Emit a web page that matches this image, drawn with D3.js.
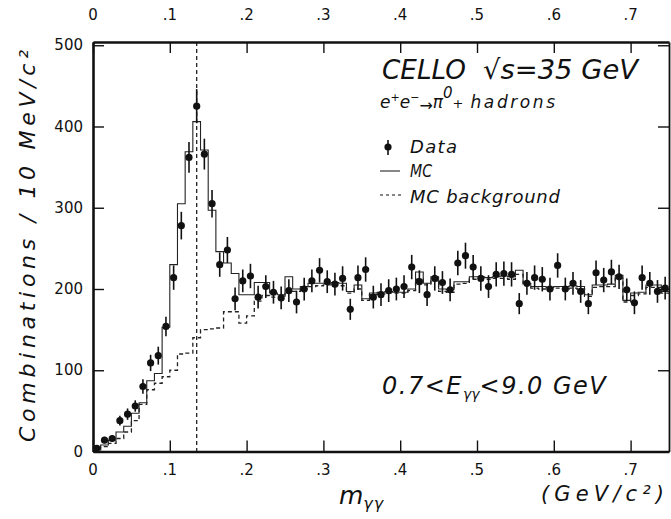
<!DOCTYPE html>
<html>
<head>
<meta charset="utf-8">
<script src="https://cdn.jsdelivr.net/npm/d3@7"></script>
<style>
  html, body { margin: 0; padding: 0; background: #fff; }
  svg { display: block; }
  text { fill: #111; font-family: "DejaVu Sans", sans-serif; }
</style>
</head>
<body>
<svg id="chart" width="671" height="519"></svg>
<script>
// ---- data (bins of 10 MeV from 0 to 0.75 GeV) ----
const binWidth = 0.01;
const dataValues = [4,14,16,38,46,56,80,109,118,154,
  214,278,362,425,366,305,230,248,188,210,
  216,190,203,196,189,198,184,200,210,223,
  209,206,213,175,214,224,190,193,198,200,
  203,227,209,193,213,208,199,232,241,227,
  213,203,218,219,218,182,207,214,212,200,
  229,200,207,197,182,220,211,221,215,199,
  183,214,207,197,201];
const dataErrors = [2,4,4,6,7,7,9,10,11,12,
  15,17,19,21,19,17,15,16,14,14,
  15,14,14,14,14,14,14,14,14,15,
  14,14,15,13,15,15,14,14,14,14,
  14,15,14,14,15,14,14,15,16,15,
  15,14,15,15,15,13,14,15,15,14,
  15,14,14,14,13,15,15,15,15,14,
  14,15,14,14,14];
const mcValues = [5,8,14,24,31,47,60,87,96,153,
  230,305,369,406,371,297,246,232,219,193,
  193,208,208,195,193,215,200,203,207,207,
  207,208,207,197,205,188,195,196,197,196,
  196,200,221,207,215,200,199,209,209,215,
  215,214,215,216,215,223,207,203,203,202,
  203,203,204,203,193,205,205,206,217,186,
  195,196,205,205,197];
const bkgValues = [2,6,10,16,24,38,58,76,84,92,
  100,120,121,140,150,151,152,172,172,158,
  167,185,192,190,190,198,197,200,203,204,
  205,205,204,195,200,186,193,194,195,195,
  195,198,212,205,210,197,196,206,207,212,
  212,212,213,213,212,218,204,201,200,200,
  201,200,201,200,191,202,203,203,213,184,
  192,194,202,202,195];
const xTickValues = [0, 0.1, 0.2, 0.3, 0.4, 0.5, 0.6, 0.7];
const xTickLabels = ["0", ".1", ".2", ".3", ".4", ".5", ".6", ".7"];
const yTickValues = [0, 100, 200, 300, 400, 500];
const pi0Mass = 0.135;

// ---- layout ----
const svg = d3.select("#chart");
const mLeft = 93, mRight = 669, mTop = 42, mBottom = 451.5;
const x = d3.scaleLinear().domain([0, 0.75]).range([mLeft, mRight]);
const y = d3.scaleLinear().domain([0, 504]).range([mBottom, mTop]);

const g = svg.append("g");

// ---- histograms ----
function stepPoints(vals) {
  const pts = vals.map((v, i) => [i * binWidth, v]);
  pts.push([vals.length * binWidth, vals[vals.length - 1]]);
  return pts;
}
const stepLine = d3.line().x(d => x(d[0])).y(d => y(d[1])).curve(d3.curveStepAfter);

g.append("path").attr("d", stepLine(stepPoints(bkgValues)))
  .attr("fill", "none").attr("stroke", "#222").attr("stroke-width", 1.3)
  .attr("stroke-dasharray", "4,3");
g.append("path").attr("d", stepLine(stepPoints(mcValues)))
  .attr("fill", "none").attr("stroke", "#222").attr("stroke-width", 1.1);

// pi0 mass line
g.append("line").attr("x1", x(pi0Mass)).attr("x2", x(pi0Mass))
  .attr("y1", mTop).attr("y2", mBottom)
  .attr("stroke", "#222").attr("stroke-width", 1.3).attr("stroke-dasharray", "4,3");

// ---- data points ----
const pts = g.append("g");
dataValues.forEach((v, i) => {
  const cx = x((i + 0.5) * binWidth);
  pts.append("line").attr("x1", cx).attr("x2", cx)
    .attr("y1", y(v - dataErrors[i])).attr("y2", y(v + dataErrors[i]))
    .attr("stroke", "#111").attr("stroke-width", 1.6);
  pts.append("circle").attr("cx", cx).attr("cy", y(v)).attr("r", 3.6).attr("fill", "#111");
});

// ---- axes ----
const tickLen = 11;
const axB = d3.axisBottom(x).tickValues(xTickValues).tickSize(-tickLen).tickSizeOuter(0).tickFormat("");
const axT = d3.axisTop(x).tickValues(xTickValues).tickSize(-tickLen).tickSizeOuter(0).tickFormat("");
const axL = d3.axisLeft(y).tickValues(yTickValues).tickSize(-tickLen).tickSizeOuter(0).tickFormat("");
const axR = d3.axisRight(y).tickValues(yTickValues).tickSize(-tickLen).tickSizeOuter(0).tickFormat("");
function styleAxis(sel, w) {
  sel.selectAll(".domain").attr("stroke", "#111").attr("stroke-width", w);
  sel.selectAll(".tick line").attr("stroke", "#111").attr("stroke-width", 1.4);
}
styleAxis(g.append("g").attr("transform", `translate(0,${mBottom})`).call(axB), 2.4);
styleAxis(g.append("g").attr("transform", `translate(0,${mTop})`).call(axT), 2.4);
styleAxis(g.append("g").attr("transform", `translate(${mLeft},0)`).call(axL), 2.6);
styleAxis(g.append("g").attr("transform", `translate(${mRight},0)`).call(axR), 1.8);

// tick labels
xTickValues.forEach((v, i) => {
  svg.append("text").attr("x", x(v)).attr("y", 475).attr("text-anchor", "middle")
    .attr("font-size", 15).text(xTickLabels[i]);
  svg.append("text").attr("x", x(v)).attr("y", 20).attr("text-anchor", "middle")
    .attr("font-size", 15).text(xTickLabels[i]);
});
yTickValues.forEach(v => {
  svg.append("text").attr("x", 83).attr("y", y(v) + 5).attr("text-anchor", "end")
    .attr("font-size", 15).text(String(v));
});

// ---- axis titles ----
svg.append("text")
  .attr("transform", "translate(35,246) rotate(-90)")
  .attr("text-anchor", "middle").attr("font-size", 22).attr("font-style", "italic")
  .attr("textLength", 392).attr("lengthAdjust", "spacing")
  .text("Combinations / 10 MeV/c²");

const xl = svg.append("text").attr("x", 339).attr("y", 504).attr("font-size", 25).attr("font-style", "italic");
xl.append("tspan").text("m");
xl.append("tspan").attr("font-size", 16).attr("dy", 5).attr("letter-spacing", 1).text("γγ");
svg.append("text").attr("x", 541).attr("y", 501).attr("font-size", 21).attr("font-style", "italic")
  .attr("textLength", 123).attr("lengthAdjust", "spacing").text("(GeV/c²)");

// ---- annotations ----
svg.append("text").attr("x", 382).attr("y", 79).attr("font-size", 27).attr("font-style", "italic")
  .attr("textLength", 84).attr("lengthAdjust", "spacingAndGlyphs").text("CELLO");
svg.append("text").attr("x", 483).attr("y", 79).attr("font-size", 27).attr("font-style", "italic")
  .attr("textLength", 155).attr("lengthAdjust", "spacingAndGlyphs").text("√s=35 GeV");

const proc = svg.append("text").attr("x", 380).attr("y", 108).attr("font-size", 17).attr("font-style", "italic");
proc.append("tspan").text("e");
proc.append("tspan").attr("font-size", 11).attr("dy", -7).text("+");
proc.append("tspan").attr("dy", 7).text("e");
proc.append("tspan").attr("font-size", 11).attr("dy", -7).text("−");
proc.append("tspan").attr("font-size", 16).attr("dy", 10).text("→");
proc.append("tspan").attr("dy", -3).text("π");
proc.append("tspan").attr("font-size", 15).attr("dy", -10).text("0");
proc.append("tspan").attr("font-size", 13).attr("dy", 10).text("+");
proc.append("tspan").attr("dx", 7).attr("letter-spacing", 2.6).text("hadrons");

// legend
svg.append("line").attr("x1", 388).attr("x2", 388).attr("y1", 140).attr("y2", 155)
  .attr("stroke", "#111").attr("stroke-width", 1.6);
svg.append("circle").attr("cx", 388).attr("cy", 147).attr("r", 3.6).attr("fill", "#111");
svg.append("text").attr("x", 410).attr("y", 153).attr("font-size", 18).attr("font-style", "italic")
  .attr("textLength", 47).attr("lengthAdjust", "spacing").text("Data");
svg.append("line").attr("x1", 380).attr("x2", 400).attr("y1", 171).attr("y2", 171)
  .attr("stroke", "#111").attr("stroke-width", 1);
svg.append("text").attr("x", 410).attr("y", 177).attr("font-size", 18).attr("font-style", "italic")
  .attr("textLength", 22).attr("lengthAdjust", "spacingAndGlyphs").text("MC");
svg.append("line").attr("x1", 380).attr("x2", 402).attr("y1", 195).attr("y2", 195)
  .attr("stroke", "#111").attr("stroke-width", 1.2).attr("stroke-dasharray", "3,3");
svg.append("text").attr("x", 410).attr("y", 203).attr("font-size", 18).attr("font-style", "italic")
  .attr("textLength", 150).attr("lengthAdjust", "spacing").text("MC background");

const cut = svg.append("text").attr("x", 382).attr("y", 394).attr("font-size", 24).attr("font-style", "italic");
cut.append("tspan").attr("letter-spacing", 1.5).text("0.7<E");
cut.append("tspan").attr("font-size", 14).attr("dy", 5).text("γγ");
cut.append("tspan").attr("dy", -5).attr("letter-spacing", 1.5).text("<9.0 GeV");
</script>
</body>
</html>
